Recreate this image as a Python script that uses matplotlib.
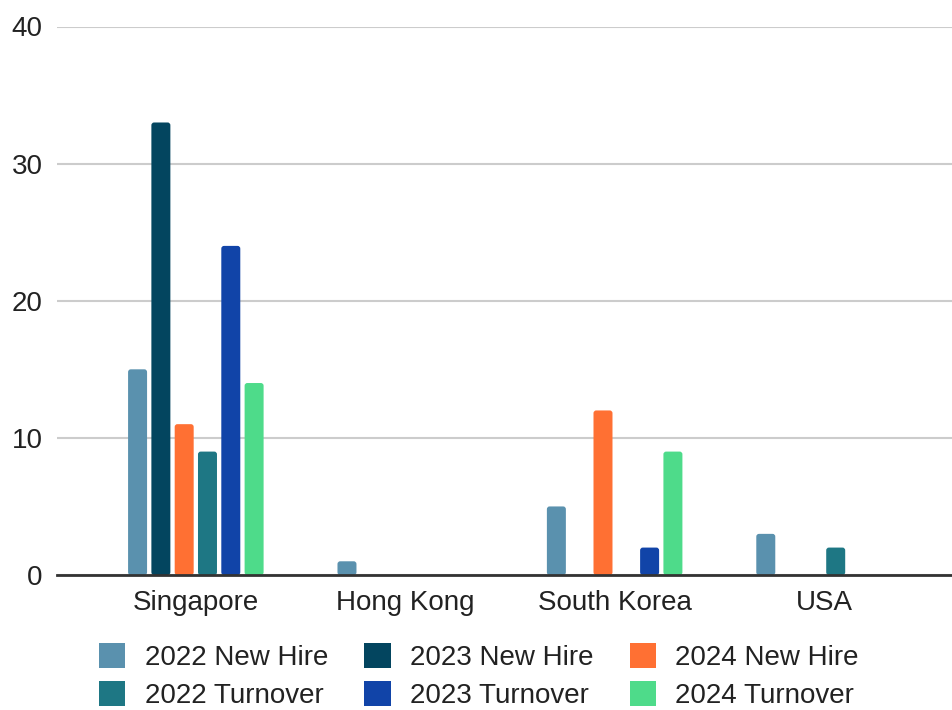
import matplotlib
matplotlib.use("Agg")
import matplotlib.pyplot as plt
from matplotlib.patches import FancyBboxPatch, Patch
import numpy as np

plt.rcParams['font.family'] = ['Liberation Sans', 'DejaVu Sans']

categories = ["Singapore", "Hong Kong", "South Korea", "USA"]
series_names = ["2022 New Hire", "2023 New Hire", "2024 New Hire",
                "2022 Turnover", "2023 Turnover", "2024 Turnover"]
new_hire_2022 = [15, 1, 5, 3]
new_hire_2023 = [33, 0, 0, 0]
new_hire_2024 = [11, 0, 12, 0]
turnover_2022 = [9, 0, 0, 2]
turnover_2023 = [24, 0, 2, 0]
turnover_2024 = [14, 0, 9, 0]
series_values = [new_hire_2022, new_hire_2023, new_hire_2024,
                 turnover_2022, turnover_2023, turnover_2024]
colors = ["#5A91AE", "#03455F", "#FF7033", "#1E7784", "#1144A8", "#4EDB8A"]
y_ticks = [0, 10, 20, 30, 40]

fig = plt.figure(figsize=(9.52, 7.10), dpi=100)
ax = fig.add_axes([57/952, 1 - 575/710, 1 - 57/952, (575 - 26.5)/710])

x = np.arange(len(categories))
pitch = 0.1113
width = 0.0907
n = len(series_names)
for i, (vals, c) in enumerate(zip(series_values, colors)):
    offs = (i - (n - 1) / 2) * pitch
    bars = ax.bar(x + offs, vals, width=width, color=c, zorder=3)
    for b in bars:
        b.set_visible(False)
        h = b.get_height()
        if h <= 0:
            continue
        p = FancyBboxPatch((b.get_x(), 0), b.get_width(), h,
                           boxstyle="round,pad=0,rounding_size=0.013",
                           mutation_aspect=15.5, facecolor=c,
                           edgecolor='none', zorder=3)
        ax.add_patch(p)

ax.set_xlim(-0.663, 3.611)
ax.set_ylim(0, 40)
ax.set_yticks(y_ticks)
ax.set_xticks(x)
ax.set_xticklabels(categories)
ax.tick_params(axis='both', length=0, labelsize=20, colors='#222222', pad=10.5)
ax.grid(axis='y', color='#CCCCCC', linewidth=1.5, zorder=0)
ax.set_axisbelow(True)
for s in ['top', 'right', 'left']:
    ax.spines[s].set_visible(False)
ax.spines['bottom'].set_color('#333333')
ax.spines['bottom'].set_linewidth(2)
ax.spines['bottom'].set_zorder(4)

order = [0, 3, 1, 4, 2, 5]
handles = [Patch(facecolor=colors[k], edgecolor='none') for k in order]
labels = [series_names[k] for k in order]
fig.legend(handles, labels, loc='center', bbox_to_anchor=(0.503, 0.048),
           ncol=3, frameon=False, fontsize=20, handlelength=0.95,
           handleheight=1.0, handletextpad=0.7, columnspacing=1.3,
           labelspacing=0.35, labelcolor='#222222')

fig.savefig("out.png", dpi=100)
